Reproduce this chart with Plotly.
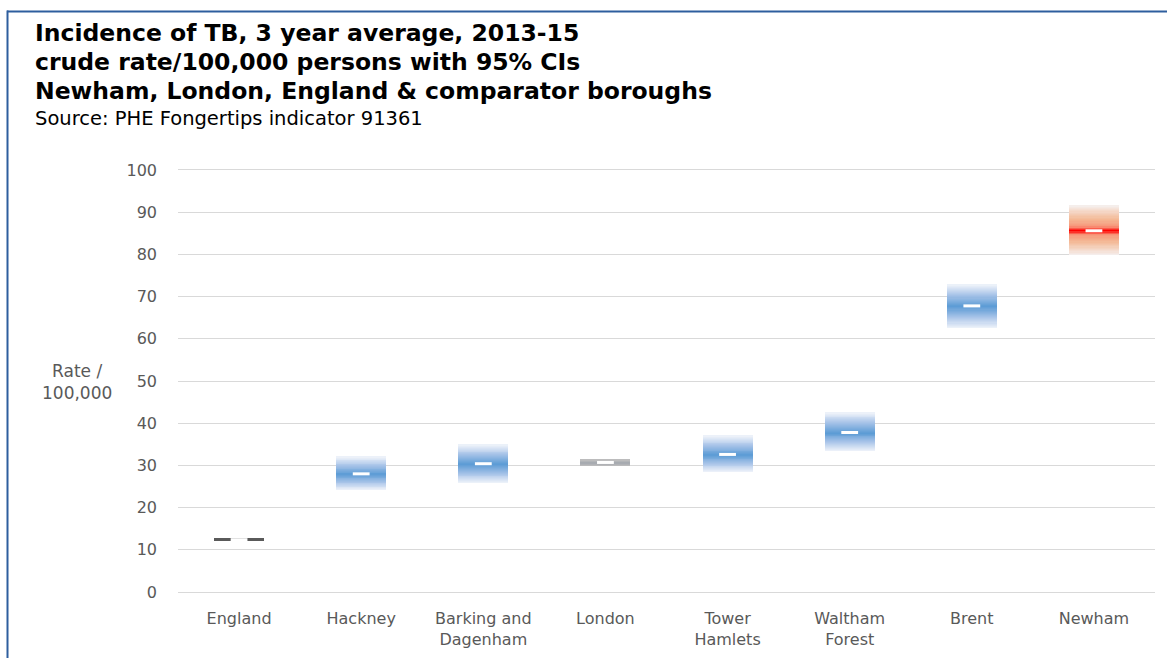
import plotly.graph_objects as go

# Crude TB incidence rate per 100,000, 3-year average 2013-15, with 95% CIs
categories = ["England", "Hackney", "Barking and<br>Dagenham", "London",
              "Tower<br>Hamlets", "Waltham<br>Forest", "Brent", "Newham"]
rate = [12.4, 28.0, 30.4, 30.7, 32.6, 37.8, 67.8, 85.6]
ci_lower = [12.2, 24.3, 25.9, 30.0, 28.6, 33.6, 62.7, 79.8]
ci_upper = [12.7, 32.1, 35.0, 31.3, 37.0, 42.6, 73.0, 91.7]
y_ticks = [0, 10, 20, 30, 40, 50, 60, 70, 80, 90, 100]

# gradient palette for each CI box: stops from the estimate (0) to the CI edge (1)
palettes = {
    "england": [(0, "#5A5A5A"), (1, "#5A5A5A")],
    "london": [(0, "#A3A7AE"), (1, "#BDBDBD")],
    "blue": [(0, "#5B9BD5"), (0.5, "#A7C3E8"), (1, "#EFF3FA")],
    "red": [(0, "#FF0000"), (0.16, "#F7967A"), (0.45, "#F4B996"), (1, "#F5F0EF")],
}
box_style = ["england", "blue", "blue", "london", "blue", "blue", "blue", "red"]

W, H = 1167, 658
ML, MR, MT, MB = 178, 12, 170, 66
PW, PH = W - ML - MR, H - MT - MB

TEXT_FONT = "DejaVu Sans, Verdana"
TICK_COLOR = "#595959"


def hex_rgb(h):
    h = h.lstrip("#")
    return tuple(int(h[i:i + 2], 16) for i in (0, 2, 4))


def mix(stops, t):
    t = max(0.0, min(1.0, t))
    for (t0, c0), (t1, c1) in zip(stops, stops[1:]):
        if t <= t1:
            f = 0 if t1 == t0 else (t - t0) / (t1 - t0)
            a, b = hex_rgb(c0), hex_rgb(c1)
            return "rgb(%d,%d,%d)" % tuple(round(a[i] + (b[i] - a[i]) * f) for i in range(3))
    return "rgb(%d,%d,%d)" % hex_rgb(stops[-1][1])


fig = go.Figure()

# each CI box is built from thin stacked slices shaded by distance from the estimate
N = 40
for i in range(N):
    bases, heights, colors = [], [], []
    for c in range(len(categories)):
        lo, hi, v = ci_lower[c], ci_upper[c], rate[c]
        h = (hi - lo) / N
        b = lo + i * h
        mid = b + h / 2
        if mid >= v:
            t = (mid - v) / (hi - v) if hi > v else 0
        else:
            t = (v - mid) / (v - lo) if v > lo else 0
        bases.append(b)
        heights.append(h * (1.6 if i < N - 1 else 1.0))
        colors.append(mix(palettes[box_style[c]], t))
    fig.add_trace(go.Bar(
        x=categories, y=heights, base=bases, width=0.41,
        marker=dict(color=colors, line=dict(width=0)),
        hoverinfo="skip", showlegend=False,
    ))

# white dash marking the point estimate
fig.add_trace(go.Scatter(
    x=categories, y=rate, mode="markers",
    marker=dict(symbol="line-ew", size=12, line=dict(width=3, color="white")),
    showlegend=False, hovertemplate="%{x}: %{y}<extra></extra>",
))


def px_x(p):
    return (p - ML) / PW


def px_y(p):
    return (H - MB - p) / PH


title_lines = [
    ("Incidence of TB, 3 year average, 2013-15", 33),
    ("crude rate/100,000 persons with 95% CIs", 62),
    ("Newham, London, England & comparator boroughs", 91),
]
annotations = []
for text, yp in title_lines:
    annotations.append(dict(
        text="<b>%s</b>" % text, x=px_x(33), y=px_y(yp), xref="paper", yref="paper",
        xanchor="left", yanchor="middle", showarrow=False,
        font=dict(family=TEXT_FONT, size=23.5, color="#000000"),
    ))
annotations.append(dict(
    text="Source: PHE Fongertips indicator 91361", x=px_x(33), y=px_y(118),
    xref="paper", yref="paper", xanchor="left", yanchor="middle", showarrow=False,
    font=dict(family=TEXT_FONT, size=19.5, color="#000000"),
))
annotations.append(dict(
    text="Rate /<br>100,000", x=px_x(77), y=px_y(382), xref="paper", yref="paper",
    xanchor="center", yanchor="middle", showarrow=False,
    font=dict(family=TEXT_FONT, size=17, color=TICK_COLOR),
))

# outer chart frame (top and left edges)
shapes = [
    dict(type="line", xref="paper", yref="paper", x0=px_x(7), x1=px_x(W + 5),
         y0=px_y(11.5), y1=px_y(11.5), line=dict(color="#2E5E9E", width=2)),
    dict(type="line", xref="paper", yref="paper", x0=px_x(7.5), x1=px_x(7.5),
         y0=px_y(10.5), y1=px_y(H + 5), line=dict(color="#2E5E9E", width=2)),
]

fig.update_layout(
    width=W, height=H,
    margin=dict(l=ML, r=MR, t=MT, b=MB),
    paper_bgcolor="white", plot_bgcolor="white",
    barmode="overlay", bargap=0,
    annotations=annotations, shapes=shapes,
    font=dict(family=TEXT_FONT, color=TICK_COLOR),
    xaxis=dict(
        showgrid=False, zeroline=False, ticks="",
        showline=True, mirror=True, linecolor="#D9D9D9", linewidth=1,
        tickfont=dict(family=TEXT_FONT, size=16, color=TICK_COLOR),
        ticklabelstandoff=12, fixedrange=True, automargin=False,
    ),
    yaxis=dict(
        range=[0, 100], tickvals=y_ticks, showgrid=True, gridcolor="#D9D9D9",
        gridwidth=1, zeroline=False, showline=False, ticks="",
        tickfont=dict(family=TEXT_FONT, size=16, color=TICK_COLOR),
        ticklabelstandoff=20, fixedrange=True, automargin=False,
    ),
)

fig.write_html("out.html", config={"displayModeBar": False})
